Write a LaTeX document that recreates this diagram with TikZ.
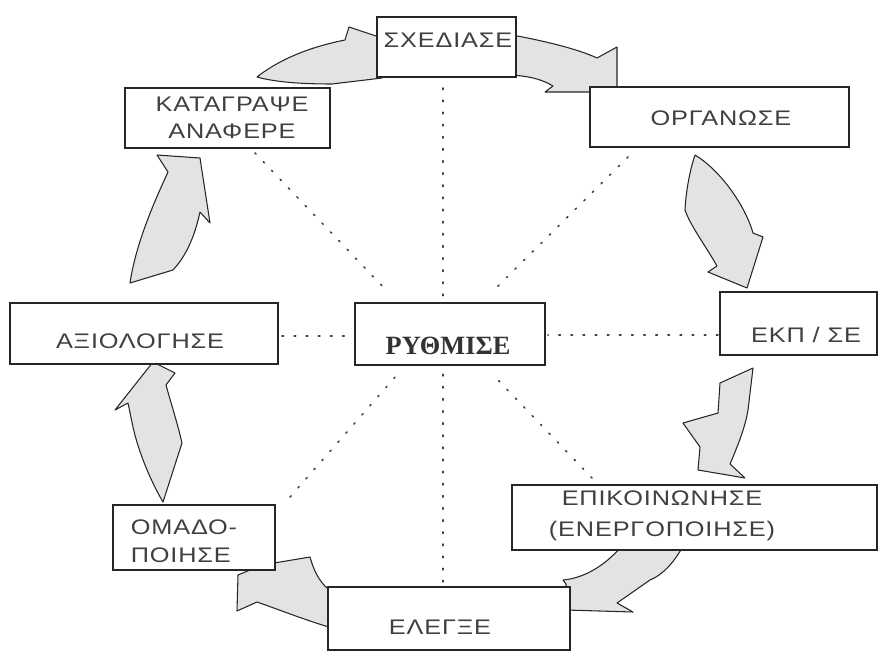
\documentclass[tikz,border=0pt]{standalone}
\usepackage{fontspec}
\setmainfont{Liberation Sans}[FakeStretch=1.2,LetterSpace=4]
\newfontfamily\rfont{Liberation Serif}[BoldFont={Liberation Serif Bold}]
\usetikzlibrary{fit}
\begin{document}
\begin{tikzpicture}[x=0.02cm,y=-0.02cm,
  box/.style={draw=black!85,line width=0.6pt,fill=white,inner sep=0pt},
  lbl/.style={font=\fontsize{12}{15.5}\selectfont,text=black!75,align=center,inner sep=0pt},
  rad/.style={draw=black!75,line width=0.9pt,dash pattern=on 0.9pt off 6pt,line cap=round},
  fatarrow/.style={draw=black!85,line width=0.6pt,fill=gray!22,line join=round}]
\useasboundingbox (0,0) rectangle (878,652);

% radial dotted lines (named end coordinates)
\coordinate (dUp) at (443,88);
\coordinate (dUpE) at (443,296);
\coordinate (dOrg) at (628,157);
\coordinate (dOrgE) at (492,292);
\coordinate (dEkp) at (718,335);
\coordinate (dEkpE) at (548,335);
\coordinate (dEpi) at (592,478);
\coordinate (dEpiE) at (498,380);
\coordinate (dDn) at (443,582);
\coordinate (dDnE) at (443,372);
\coordinate (dOma) at (290,497);
\coordinate (dOmaE) at (396,376);
\coordinate (dAxi) at (282,336);
\coordinate (dAxiE) at (352,336);
\coordinate (dKat) at (255,153);
\coordinate (dKatE) at (386,290);
\draw[rad] (dUp) -- (dUpE);
\draw[rad] (dOrg) -- (dOrgE);
\draw[rad] (dEkp) -- (dEkpE);
\draw[rad] (dEpi) -- (dEpiE);
\draw[rad] (dDn) -- (dDnE);
\draw[rad] (dOma) -- (dOmaE);
\draw[rad] (dAxi) -- (dAxiE);
\draw[rad] (dKat) -- (dKatE);

% curved fat arrows
% KATAGRAPSE -> SXEDIASE
\draw[fatarrow] (257,77) .. controls (285,55) and (320,45) .. (345,40) -- (349,27) -- (382,38) -- (382,78) -- (332,84) .. controls (300,84) and (275,82) .. (257,77) -- cycle;
% SXEDIASE -> ORGANOSE
\draw[fatarrow] (512,35) .. controls (550,42) and (580,50) .. (597,58) -- (617,47) -- (617,92) -- (545,92) -- (553,86) .. controls (540,78) and (525,76) .. (512,75) -- cycle;
% ORGANOSE -> EKP/SE
\draw[fatarrow] (695,155) .. controls (720,170) and (745,205) .. (753,233) -- (763,237) -- (747,288) -- (708,272) -- (717,266) .. controls (705,245) and (690,225) .. (685,210) .. controls (686,190) and (690,170) .. (695,155) -- cycle;
% EKP/SE -> EPIKOINONISE
\draw[fatarrow] (753,368) -- (720,383) -- (718,413) -- (683,423) -- (700,447) -- (698,470) -- (745,478) -- (730,464) .. controls (738,445) and (745,428) .. (748,410) -- cycle;
% EPIKOINONISE -> ELEGXE
\draw[fatarrow] (682,548) .. controls (672,565) and (662,575) .. (650,580) -- (617,603) -- (633,612) -- (566,610) -- (566,584) -- (563,580) .. controls (585,578) and (605,565) .. (620,548) -- cycle;
% ELEGXE -> OMADOPOIHSE
\draw[fatarrow] (332,592) .. controls (322,585) and (315,575) .. (310,557) -- (262,565) -- (238,575) -- (237,611) -- (257,602) .. controls (280,610) and (305,620) .. (332,628) -- cycle;
% OMADOPOIHSE -> AXIOLOGHSE
\draw[fatarrow] (163,502) -- (182,443) .. controls (178,425) and (170,400) .. (166,385) -- (175,373) -- (153,362) -- (115,410) -- (128,403) -- (133,427) .. controls (138,450) and (150,480) .. (163,502) -- cycle;
% AXIOLOGHSE -> KATAGRAPSE
\draw[fatarrow] (130,283) .. controls (135,250) and (148,215) .. (168,172) -- (157,155) -- (200,158) -- (210,223) -- (200,212) .. controls (195,235) and (187,255) .. (173,270) -- cycle;

% boxes
\node[box,fit={(377,17) (516,77)}] (sx) {};
\node[box,fit={(125,88) (330,148)}] (kat) {};
\node[box,fit={(590,87) (849,147)}] (org) {};
\node[box,fit={(720,292) (877,355)}] (ekp) {};
\node[box,fit={(10,303) (278,364)}] (axi) {};
\node[box,fit={(355,303) (545,365)}] (ryth) {};
\node[box,fit={(512,485) (877,550)}] (epi) {};
\node[box,fit={(113,505) (275,570)}] (oma) {};
\node[box,fit={(328,587) (570,650)}] (ele) {};

% texts
\node[lbl] (sxt) at (448,40) {ΣΧΕΔΙΑΣΕ};
\node[lbl] (katt) at (232,118) {ΚΑΤΑΓΡΑΨΕ\\ΑΝΑΦΕΡΕ};
\node[lbl] (orgt) at (721,118) {ΟΡΓΑΝΩΣΕ};
\node[lbl] (ekpt) at (806,335) {ΕΚΠ / ΣΕ};
\node[lbl] (axit) at (140,341) {ΑΞΙΟΛΟΓΗΣΕ};
\node[font=\rfont\bfseries\fontsize{15}{17}\selectfont,text=black!80,inner sep=0pt] (rytht) at (448,346) {ΡΥΘΜΙΣΕ};
\node[lbl,font=\fontsize{12}{17.5}\selectfont] (epit) at (662,516) {ΕΠΙΚΟΙΝΩΝΗΣΕ\\(ΕΝΕΡΓΟΠΟΙΗΣΕ)};
\node[lbl,align=left,font=\fontsize{12}{16}\selectfont] (omat) at (184,541) {ΟΜΑΔΟ-\\ΠΟΙΗΣΕ};
\node[lbl] (elet) at (440,627) {ΕΛΕΓΞΕ};
\end{tikzpicture}
\end{document}
